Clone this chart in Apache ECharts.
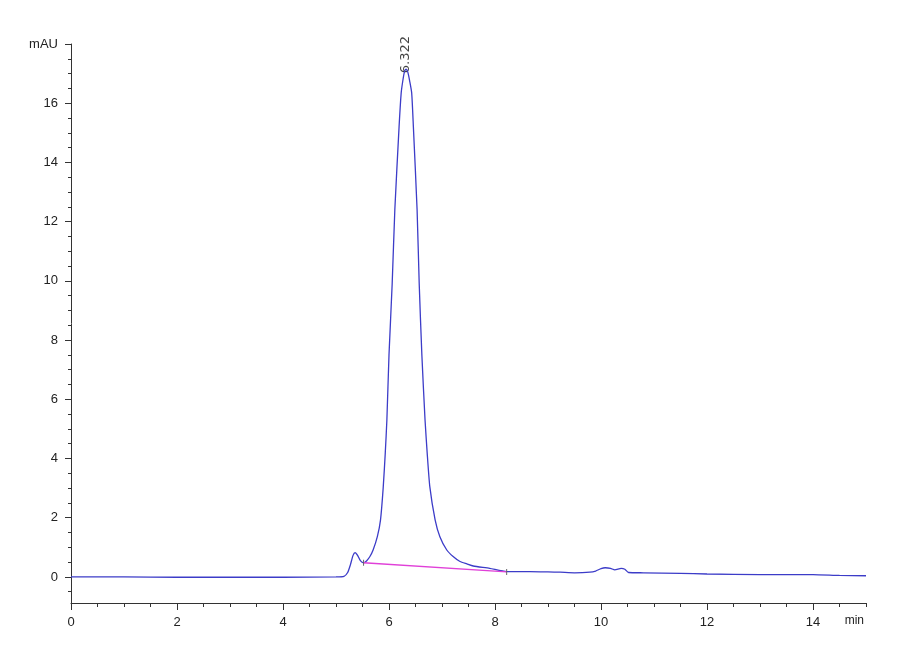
<!DOCTYPE html>
<html>
<head>
<meta charset="utf-8">
<script src="https://cdn.jsdelivr.net/npm/echarts@6/dist/echarts.min.js"></script>
<style>
html,body{margin:0;padding:0;background:#fff;}
#chrom{width:900px;height:660px;}
</style>
</head>
<body>
<div id="chrom"></div>
<script>
// 色谱图数据 (min, mAU)
var times=[0,1,2,3,4,5,5.15,5.22,5.27,5.32,5.36,5.41,5.46,5.52,5.58,5.64,5.70,5.78,5.84,5.89,5.93,5.96,6.00,6.06,6.11,6.19,6.23,6.26,6.29,6.322,6.355,6.39,6.428,6.46,6.53,6.57,6.62,6.68,6.72,6.77,6.87,6.96,7.09,7.21,7.34,7.47,7.59,7.9,8.22,8.66,9.0,9.23,9.5,9.79,9.9,10.0,10.08,10.18,10.26,10.38,10.45,10.52,10.8,11.5,12,13,14,14.5,15];
var signal=[0,0,-0.01,-0.01,-0.01,0,0.02,0.15,0.4,0.72,0.82,0.72,0.55,0.48,0.55,0.69,0.91,1.36,1.93,3.0,4.2,5.3,7.5,9.9,12.4,15.2,16.35,16.75,17.05,17.15,17.05,16.75,16.35,15.2,12.4,9.9,7.5,5.3,4.2,3.05,1.93,1.36,0.91,0.69,0.52,0.44,0.37,0.29,0.18,0.18,0.17,0.16,0.14,0.16,0.2,0.28,0.31,0.29,0.24,0.29,0.26,0.15,0.14,0.12,0.1,0.08,0.08,0.05,0.04];
// 积分基线
var baseTimes=[5.52,8.22];
var baseValues=[0.48,0.17];
// 峰标记
var peakTimes=[6.322];
var peakHeights=[17.15];
var peakLabels=['6.322'];
// 刻度
var xMajorTicks=[0,2,4,6,8,10,12,14];
var yMajorTicks=[0,2,4,6,8,10,12,14,16,18];
var xMinorTicks=[],yMinorTicks=[];
for(var i=0;i<=30;i++){ if(i%4!=0) xMinorTicks.push(i*0.5); }
for(var j=-1;j<=36;j++){ if(j%4!=0) yMinorTicks.push(j*0.5); }

var font='"Liberation Sans",sans-serif';
var axisColor='#333';

window.onload=function(){
 var chart=echarts.init(document.getElementById("chrom"));
 var trace=[],base=[],peaks=[];
 for(var i=0;i<times.length;i++) trace.push([times[i],signal[i]]);
 for(var i=0;i<baseTimes.length;i++) base.push([baseTimes[i],baseValues[i]]);
 for(var i=0;i<peakTimes.length;i++) peaks.push({value:[peakTimes[i],peakHeights[i]],name:peakLabels[i]});

 var option={
  animation:false,
  backgroundColor:'#fff',
  grid:{left:71,right:34,top:44,bottom:57},
  xAxis:[{
    type:'value',min:0,max:15,
    name:'min',nameLocation:'end',nameGap:-2,
    nameTextStyle:{fontFamily:font,fontSize:12,color:'#222',align:'right',verticalAlign:'top',padding:[12,0,0,0]},
    axisLine:{onZero:false,lineStyle:{color:axisColor,width:1}},
    axisTick:{customValues:xMajorTicks,length:7,lineStyle:{color:axisColor}},
    axisLabel:{customValues:xMajorTicks,margin:13,fontFamily:font,fontSize:13,color:'#222'},
    splitLine:{show:false}
  },{
    type:'value',min:0,max:15,position:'bottom',
    axisLine:{show:false,onZero:false},
    axisTick:{customValues:xMinorTicks,length:4,lineStyle:{color:axisColor}},
    axisLabel:{show:false},
    splitLine:{show:false}
  }],
  yAxis:[{
    type:'value',min:-0.88,max:18,
    axisLine:{show:true,onZero:false,lineStyle:{color:axisColor,width:1}},
    axisTick:{show:true,customValues:yMajorTicks,length:6,lineStyle:{color:axisColor}},
    axisLabel:{customValues:yMajorTicks,margin:13,fontFamily:font,fontSize:13,color:'#222',
      formatter:function(v){return v==18?'mAU':v;}},
    splitLine:{show:false}
  },{
    type:'value',min:-0.88,max:18,position:'left',
    axisLine:{show:false,onZero:false},
    axisTick:{show:true,customValues:yMinorTicks,length:3,lineStyle:{color:axisColor}},
    axisLabel:{show:false},
    splitLine:{show:false}
  }],
  series:[{
    type:'line',data:trace,smooth:0.2,showSymbol:false,
    lineStyle:{color:'#3c3cc8',width:1.3}
  },{
    type:'line',data:base,
    symbol:'rect',symbolSize:[1,6],
    itemStyle:{color:'#666'},
    lineStyle:{color:'#e040d8',width:1.3}
  },{
    type:'scatter',data:peaks,symbolSize:0,
    label:{show:true,formatter:'{b}',position:'top',distance:-4,rotate:90,
      align:'left',verticalAlign:'middle',
      fontFamily:'"DejaVu Sans","Liberation Sans",sans-serif',fontSize:13,color:'#111'}
  }]
 };
 chart.setOption(option);
};
</script>
</body>
</html>
